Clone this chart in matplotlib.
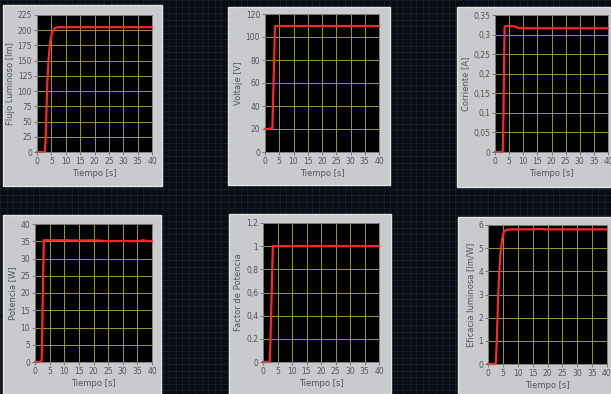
import matplotlib.pyplot as plt
import matplotlib.patches as patches
from matplotlib.ticker import FuncFormatter
import numpy as np

plt.rcParams['font.family'] = ['Liberation Sans Narrow', 'DejaVu Sans']

t_flujo = [0, 1, 2, 2.7, 3.0, 3.3, 3.6, 4.0, 4.5, 5.0, 5.5, 6.0, 6.5, 7.5, 10, 20, 30, 40]
flujo = [0, 0, 0, 0, 20, 70, 115, 150, 178, 192, 199, 202, 204, 205, 205, 205, 205, 205]

t_volt = [0, 1, 2, 2.5, 2.6, 3.5, 5, 10, 20, 30, 40]
volt = [20, 20, 20.5, 20.5, 21, 109.5, 109.5, 109.5, 109.5, 109.5, 109.5]

t_corr = [0, 1, 2, 2.6, 2.8, 3.4, 5, 7, 8, 10, 20, 30, 40]
corr = [0, 0, 0, 0, 0.005, 0.321, 0.322, 0.321, 0.317, 0.316, 0.316, 0.316, 0.316]

t_pot = [0, 1, 2.1, 2.3, 3.0, 5, 10, 15, 20, 22, 25, 30, 33, 36, 37, 38, 40]
pot = [0, 0, 0, 1, 35.3, 35.3, 35.3, 35.2, 35.3, 35.2, 35.0, 35.1, 35.0, 35.1, 35.3, 35.1, 35.0]

t_fp = [0, 1, 2.2, 2.4, 3.4, 5, 10, 20, 30, 40]
fp = [0, 0, 0, 0.02, 1.0, 1.0, 1.0, 1.0, 1.0, 1.0]

t_efic = [0, 1, 2.6, 2.9, 3.2, 3.5, 3.9, 4.3, 4.7, 5.2, 5.7, 6.5, 8, 10, 15, 16, 20, 30, 40]
efic = [0, 0, 0, 0.8, 2.0, 3.2, 4.2, 4.9, 5.35, 5.65, 5.76, 5.8, 5.81, 5.81, 5.81, 5.83, 5.81, 5.81, 5.81]

ylabels = ['Flujo Luminoso [lm]', 'Voltaje [V]', 'Corriente [A]',
           'Potencia [W]', 'Factor de Potencia', 'Eficacia luminosa [lm/W]']
ylims = [(0, 225, 25), (0, 120, 20), (0, 0.35, 0.05),
         (0, 40, 5), (0, 1.2, 0.2), (0, 6, 1)]
series = [(t_flujo, flujo), (t_volt, volt), (t_corr, corr),
          (t_pot, pot), (t_fp, fp), (t_efic, efic)]

W, H = 611, 394
# gray panel box and plot box in pixels (x0, y0, x1, y1), y from top
panels = [(3, 5, 162, 186), (228, 7, 390, 185), (457, 7, 611, 187),
          (3, 215, 161, 394), (229, 214, 391, 394), (458, 217, 611, 394)]
plots = [(37, 15, 152, 152), (265, 14, 379, 152), (495, 15, 608, 152),
         (35, 224, 152, 362), (263, 223, 379, 362), (488, 225, 607, 364)]

fig = plt.figure(figsize=(W / 100, H / 100), dpi=100)
fig.patch.set_facecolor('#090c13')

# front panel grid
bg = fig.add_axes([0, 0, 1, 1])
bg.set_xlim(0, W)
bg.set_ylim(H, 0)
bg.set_facecolor('#090c13')
for g in np.arange(0, W, 6.5):
    bg.axvline(g, color='#1b2130', lw=0.5, zorder=0)
for g in np.arange(0, H, 6.5):
    bg.axhline(g, color='#1b2130', lw=0.5, zorder=0)
bg.axis('off')

for (x0, y0, x1, y1) in panels:
    bg.add_patch(patches.Rectangle((x0, y0), x1 - x0, y1 - y0, zorder=2,
                                   facecolor='#c9cacd', edgecolor='#e2e3e5', lw=1))


def comma(v, pos):
    s = f'{v:.2f}'.rstrip('0').rstrip('.')
    return s.replace('.', ',')


for i, ((t, v), (px0, py0, px1, py1)) in enumerate(zip(series, plots)):
    ax = fig.add_axes([px0 / W, 1 - py1 / H, (px1 - px0) / W, (py1 - py0) / H])
    ax.set_facecolor('black')
    lo, hi, step = ylims[i]
    ax.set_xlim(0, 40)
    ax.set_ylim(lo, hi)
    ax.set_xticks(np.arange(0, 41, 5))
    ax.set_yticks(np.arange(lo, hi + step / 2, step))
    ax.yaxis.set_major_formatter(FuncFormatter(comma))
    ax.grid(True, color='#9b9a35', lw=0.7)
    ax.set_axisbelow(True)
    ax.plot(t, v, color='#ff2626', lw=1.6, clip_on=False)
    ax.tick_params(labelsize=5.5, colors='#555555', length=2, width=0.5, pad=1.5)
    for s in ax.spines.values():
        s.set_color('#777777')
        s.set_linewidth(0.6)
    ax.set_xlabel('Tiempo [s]', fontsize=6, color='#555555', labelpad=2)
    ax.set_ylabel(ylabels[i], fontsize=6, color='#555555', labelpad=2)

fig.savefig('out.png', dpi=100, facecolor=fig.get_facecolor())
